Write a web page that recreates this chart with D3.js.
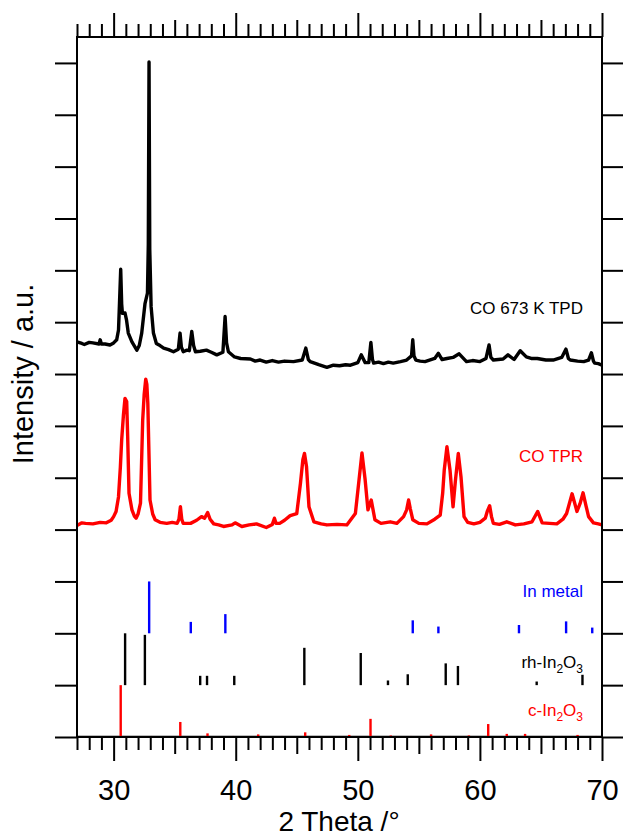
<!DOCTYPE html>
<html>
<head>
<meta charset="utf-8">
<script src="https://cdn.jsdelivr.net/npm/d3@7"></script>
<style>
  body { margin: 0; background: #fff; }
  svg text { font-family: "Liberation Sans", Arial, sans-serif; }
</style>
</head>
<body>
<svg id="chart" width="623" height="838"></svg>
<script>
// measured patterns, intensity in y-tick units
var tpdTheta = [27.0, 27.4, 27.6, 28.0, 28.3, 28.8, 28.9, 29.0, 29.3, 29.7, 30.0, 30.25, 30.4, 30.47, 30.58, 30.66, 30.72, 30.93, 31.05, 31.2, 31.5, 31.9, 32.1, 32.3, 32.57, 32.77, 32.84, 32.9, 32.96, 33.07, 33.26, 33.5, 33.8, 34.1, 34.5, 34.9, 35.3, 35.44, 35.55, 35.7, 36.0, 36.2, 36.4, 36.55, 36.7, 37.1, 37.6, 38.0, 38.45, 38.95, 39.13, 39.25, 39.4, 39.9, 40.4, 41.2, 41.6, 42.0, 42.5, 43.0, 43.5, 44.0, 44.73, 45.45, 45.74, 45.95, 46.1, 46.8, 47.47, 48.0, 48.5, 49.0, 49.4, 50.0, 50.28, 50.6, 50.9, 51.07, 51.2, 51.3, 51.7, 52.1, 52.5, 52.9, 53.5, 54.0, 54.4, 54.5, 54.6, 54.75, 55.1, 55.5, 56.3, 56.6, 56.9, 57.3, 57.8, 58.3, 58.9, 59.4, 60.0, 60.5, 60.75, 60.9, 61.1, 61.9, 62.3, 62.8, 63.3, 63.8, 64.2, 64.7, 65.4, 66.0, 66.7, 67.05, 67.25, 67.4, 68.0, 68.5, 68.9, 69.13, 69.3, 69.4, 69.7, 70.0];
var tpdInt = [7.62, 7.59, 7.57, 7.61, 7.60, 7.58, 7.66, 7.58, 7.58, 7.56, 7.60, 7.66, 7.85, 8.30, 9.02, 8.35, 8.17, 8.18, 8.05, 7.79, 7.62, 7.46, 7.55, 7.79, 8.36, 8.56, 9.5, 13.02, 9.4, 8.30, 7.79, 7.59, 7.55, 7.50, 7.47, 7.43, 7.48, 7.79, 7.52, 7.43, 7.46, 7.45, 7.82, 7.55, 7.43, 7.44, 7.46, 7.42, 7.37, 7.42, 8.11, 7.60, 7.43, 7.33, 7.30, 7.29, 7.25, 7.27, 7.23, 7.26, 7.23, 7.25, 7.24, 7.27, 7.50, 7.28, 7.24, 7.18, 7.13, 7.17, 7.16, 7.18, 7.17, 7.22, 7.37, 7.22, 7.22, 7.61, 7.28, 7.21, 7.23, 7.20, 7.23, 7.21, 7.24, 7.27, 7.35, 7.66, 7.35, 7.27, 7.25, 7.24, 7.30, 7.40, 7.28, 7.30, 7.32, 7.39, 7.24, 7.26, 7.24, 7.30, 7.56, 7.32, 7.27, 7.29, 7.37, 7.28, 7.45, 7.33, 7.30, 7.30, 7.27, 7.27, 7.32, 7.48, 7.30, 7.27, 7.25, 7.24, 7.27, 7.41, 7.25, 7.21, 7.20, 7.17];

var tprTheta = [27.0, 27.4, 27.7, 28.3, 28.9, 29.4, 29.8, 30.0, 30.2, 30.4, 30.55, 30.66, 30.8, 30.93, 31.07, 31.15, 31.26, 31.5, 31.7, 31.84, 32.0, 32.2, 32.38, 32.5, 32.63, 32.72, 32.8, 32.9, 32.98, 33.2, 33.4, 33.8, 34.35, 34.8, 35.2, 35.35, 35.47, 35.58, 35.7, 36.3, 36.8, 37.2, 37.45, 37.7, 37.9, 38.2, 38.6, 39.0, 39.7, 39.95, 40.5, 41.1, 41.7, 42.5, 43.0, 43.17, 43.3, 43.6, 44.0, 44.46, 45.0, 45.3, 45.5, 45.63, 45.8, 46.0, 46.4, 47.0, 47.47, 48.3, 49.1, 49.8, 50.1, 50.34, 50.6, 50.83, 51.1, 51.4, 51.9, 52.66, 53.2, 53.75, 54.0, 54.16, 54.3, 54.5, 55.0, 55.66, 56.3, 56.75, 56.95, 57.08, 57.3, 57.55, 57.8, 58.0, 58.23, 58.45, 58.7, 59.0, 59.5, 60.0, 60.44, 60.6, 60.8, 60.95, 61.1, 61.6, 62.2, 62.9, 63.6, 64.27, 64.73, 65.1, 65.7, 66.3, 66.8, 67.1, 67.55, 67.95, 68.2, 68.45, 68.7, 68.9, 69.3, 69.7, 70.0];
var tprInt = [4.08, 4.13, 4.12, 4.11, 4.14, 4.13, 4.18, 4.25, 4.35, 4.63, 5.2, 5.73, 6.2, 6.53, 6.47, 5.8, 4.70, 4.38, 4.26, 4.22, 4.30, 4.51, 6.11, 6.6, 6.90, 6.8, 6.44, 5.4, 4.57, 4.30, 4.19, 4.14, 4.12, 4.14, 4.12, 4.2, 4.44, 4.2, 4.12, 4.12, 4.18, 4.25, 4.22, 4.33, 4.2, 4.11, 4.09, 4.06, 4.09, 4.13, 4.06, 4.09, 4.11, 4.04, 4.10, 4.22, 4.12, 4.12, 4.18, 4.27, 4.31, 4.89, 5.35, 5.47, 5.21, 4.44, 4.15, 4.11, 4.09, 4.10, 4.09, 4.31, 4.96, 5.48, 4.96, 4.38, 4.57, 4.19, 4.12, 4.15, 4.12, 4.25, 4.38, 4.57, 4.40, 4.19, 4.12, 4.11, 4.20, 4.28, 4.7, 5.15, 5.60, 5.15, 4.44, 4.96, 5.47, 5.02, 4.25, 4.14, 4.11, 4.14, 4.22, 4.35, 4.46, 4.25, 4.12, 4.10, 4.15, 4.09, 4.11, 4.15, 4.35, 4.13, 4.12, 4.11, 4.2, 4.31, 4.69, 4.35, 4.5, 4.71, 4.45, 4.25, 4.13, 4.11, 4.09];

// reference stick patterns
var inTheta = [32.91, 36.32, 39.15, 54.5, 56.6, 63.2, 67.06, 69.2];
var inInt = [1.0, 0.22, 0.37, 0.25, 0.13, 0.16, 0.23, 0.11];
var rhTheta = [30.94, 32.56, 37.09, 37.65, 39.88, 45.62, 50.24, 52.47, 54.09, 57.2, 58.2, 64.65, 68.4];
var rhInt = [1.0, 0.97, 0.18, 0.18, 0.18, 0.72, 0.62, 0.09, 0.21, 0.42, 0.37, 0.07, 0.2];
var cTheta = [30.58, 33.1, 35.46, 37.69, 39.8, 41.84, 43.8, 45.69, 49.3, 51.04, 52.7, 54.35, 56.0, 57.6, 59.1, 60.68, 62.2, 63.7, 65.2, 66.7, 68.0, 69.5];
var cInt = [1.0, 0.02, 0.29, 0.07, 0.02, 0.05, 0.02, 0.09, 0.04, 0.35, 0.03, 0.02, 0.05, 0.02, 0.03, 0.25, 0.06, 0.06, 0.02, 0.02, 0.04, 0.02];

var xTicksMajor = [30, 40, 50, 60, 70];
var yTicks = d3.range(0, 14);

var margin = {left: 77, top: 37, right: 21, bottom: 101};
var width = 623 - margin.left - margin.right;
var height = 838 - margin.top - margin.bottom;

var svg = d3.select("#chart");
var g = svg.append("g").attr("transform", "translate(" + margin.left + "," + margin.top + ")");

var x = d3.scaleLinear().domain([27, 70]).range([0, width]);
var y = d3.scaleLinear().domain([0, 13.5]).range([height, 0]);

var minor = d3.range(27, 71).filter(function(d) { return d % 5 != 0; });
var mid = d3.range(27, 71).filter(function(d) { return d % 5 == 0 && d % 10 != 0; });

function tickAxis(axisFn, values, size) {
  return axisFn(x).tickValues(values).tickSize(size).tickFormat("");
}

  // bottom ticks (outside)
g.append("g").attr("class", "axis b1").attr("transform", "translate(0," + height + ")").call(tickAxis(d3.axisBottom, minor, 13));
g.append("g").attr("class", "axis b2").attr("transform", "translate(0," + height + ")").call(tickAxis(d3.axisBottom, mid, 17));
g.append("g").attr("class", "axis b3").attr("transform", "translate(0," + height + ")")
    .call(d3.axisBottom(x).tickValues(xTicksMajor).tickSize(24).tickPadding(18).tickFormat(d3.format("d")));

  // top ticks (outside)
g.append("g").attr("class", "axis t1").call(tickAxis(d3.axisTop, minor, 13));
g.append("g").attr("class", "axis t2").call(tickAxis(d3.axisTop, mid, 17));
g.append("g").attr("class", "axis t3").call(tickAxis(d3.axisTop, xTicksMajor, 24));

  // left and right ticks
g.append("g").attr("class", "axis l").call(d3.axisLeft(y).tickValues(yTicks).tickSize(22).tickFormat(""));
g.append("g").attr("class", "axis r").attr("transform", "translate(" + width + ",0)")
    .call(d3.axisRight(y).tickValues(yTicks).tickSize(22).tickFormat(""));

g.selectAll(".axis path.domain").remove();
g.selectAll(".axis line").attr("stroke", "#000").attr("stroke-width", 2);
g.selectAll(".axis text").attr("font-size", 29).attr("fill", "#000")
    .style("font-family", "'Liberation Sans', Arial, sans-serif");

  // sticks
function drawSticks(theta, vals, base, color, cls) {
  g.append("g").attr("class", cls)
    .selectAll("line").data(theta).enter().append("line")
      .attr("x1", function(d) { return x(d); })
      .attr("x2", function(d) { return x(d); })
      .attr("y1", y(base))
      .attr("y2", function(d, i) { return y(base + vals[i]); })
      .attr("stroke", color)
      .attr("stroke-width", 2.4);
}
g.append("line").attr("x1", 0).attr("x2", width).attr("y1", y(0) - 1.5).attr("y2", y(0) - 1.5)
    .attr("stroke", "#bbb").attr("stroke-width", 1);
drawSticks(cTheta, cInt, 0, "#ff0000", "c-sticks");
drawSticks(rhTheta, rhInt, 1, "#000000", "rh-sticks");
drawSticks(inTheta, inInt, 2, "#0000ff", "in-sticks");

  // patterns
var line = d3.line()
    .x(function(d) { return x(d[0]); })
    .y(function(d) { return y(d[1]); });

g.append("path")
    .datum(d3.zip(tprTheta, tprInt))
    .attr("d", line)
    .attr("fill", "none")
    .attr("stroke", "#ff0000")
    .attr("stroke-width", 3.4)
    .attr("stroke-linejoin", "round");

g.append("path")
    .datum(d3.zip(tpdTheta, tpdInt))
    .attr("d", line)
    .attr("fill", "none")
    .attr("stroke", "#000")
    .attr("stroke-width", 3.4)
    .attr("stroke-linejoin", "round");

  // frame
g.append("rect").attr("width", width).attr("height", height)
    .attr("fill", "none").attr("stroke", "#000").attr("stroke-width", 2);

  // series labels
function label(txt, sub, ypos, color) {
  var t = svg.append("text")
      .attr("x", 583).attr("y", ypos)
      .attr("text-anchor", "end")
      .attr("font-size", 17)
      .attr("fill", color);
  if (!sub) { t.text(txt); return; }
  t.append("tspan").text(txt);
  t.append("tspan").text("2").attr("font-size", 12).attr("dy", 5);
  t.append("tspan").text("O").attr("dy", -5);
  t.append("tspan").text("3").attr("font-size", 12).attr("dy", 5);
}
label("CO 673 K TPD", false, 314, "#000");
label("CO TPR", false, 462, "#ff0000");
label("In metal", false, 597, "#0000ff");
label("rh-In", true, 668, "#000");
label("c-In", true, 716, "#ff0000");

  // axis titles
svg.append("text")
    .attr("x", 339).attr("y", 831)
    .attr("text-anchor", "middle")
    .attr("font-size", 28)
    .text("2 Theta /\u00b0");

svg.append("text")
    .attr("transform", "translate(33,374) rotate(-90)")
    .attr("text-anchor", "middle")
    .attr("font-size", 29)
    .text("Intensity / a.u.");
</script>
</body>
</html>
